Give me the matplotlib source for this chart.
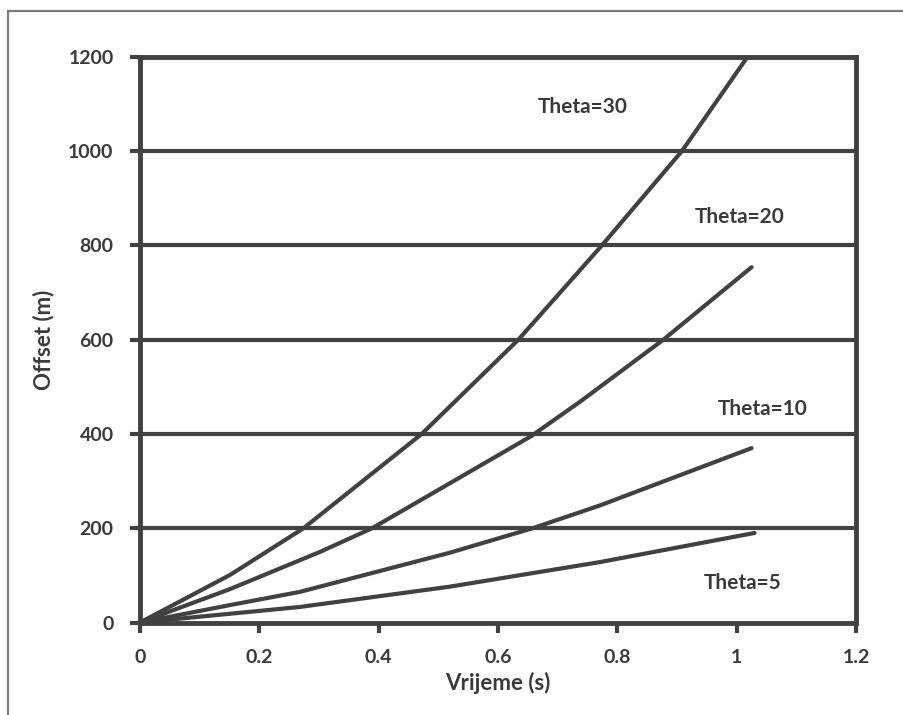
import matplotlib
matplotlib.use("Agg")
import matplotlib.pyplot as plt
from matplotlib.patches import Rectangle

# ---- data ----
t30 = [0.0, 0.151, 0.274, 0.472, 0.634, 0.774, 0.908, 1.018]
o30 = [0, 101, 200, 400, 600, 800, 1000, 1200]
t20 = [0.0, 0.151, 0.302, 0.389, 0.655, 0.737, 0.877, 1.025]
o20 = [0, 71, 150, 200, 395, 468, 600, 754]
t10 = [0.0, 0.151, 0.268, 0.519, 0.658, 0.770, 1.025]
o10 = [0, 37, 65, 148, 200, 248, 370]
t5 = [0.0, 0.268, 0.519, 0.770, 1.030]
o5 = [0, 33, 76, 128, 190]

labels = ["Theta=30", "Theta=20", "Theta=10", "Theta=5"]
label_x = [0.742, 1.005, 1.044, 1.01]
label_y = [1093, 860, 453, 84]

xticks = [0, 0.2, 0.4, 0.6, 0.8, 1.0, 1.2]
xticklabels = ["0", "0.2", "0.4", "0.6", "0.8", "1", "1.2"]
yticks = [0, 200, 400, 600, 800, 1000, 1200]
yticklabels = ["0", "200", "400", "600", "800", "1000", "1200"]

DARK = "#414141"
TXT = "#3a3a3a"
FONT = ["Lato", "DejaVu Sans"]
plt.rcParams["font.family"] = FONT

fig = plt.figure(figsize=(9.04, 7.15), dpi=100)
ax = fig.add_axes([140 / 904, 92.5 / 715, (856 - 140) / 904, (622.5 - 57) / 715])

# outer border (cropped at right/bottom in reference)
fig.patches.append(Rectangle((7.5 / 904, -20 / 715), 940 / 904, (704 + 20) / 715,
                             transform=fig.transFigure, fill=False,
                             edgecolor="#7a7a7a", linewidth=1.6, clip_on=False))

ax.set_xlim(0, 1.2)
ax.set_ylim(0, 1200)

# grid lines
for yv in yticks[1:-1]:
    ax.axhline(yv, color=DARK, linewidth=3.0, zorder=1)

for xs, ys in [(t30, o30), (t20, o20), (t10, o10), (t5, o5)]:
    ax.plot(xs, ys, color=DARK, linewidth=3.0, solid_capstyle="round",
            solid_joinstyle="round", zorder=3)

for s, lx, ly in zip(labels, label_x, label_y):
    ax.text(lx, ly, s, ha="center", va="center", fontsize=15, fontweight="bold",
            color=TXT, family=FONT)

for sp in ax.spines.values():
    sp.set_color(DARK)
    sp.set_linewidth(3.5)

ax.set_xticks(xticks)
ax.set_xticklabels(xticklabels)
ax.set_yticks(yticks)
ax.set_yticklabels(yticklabels)
ax.tick_params(axis="both", colors=DARK, width=3.0, labelcolor=TXT, labelsize=14)
ax.tick_params(axis="y", length=7, pad=12)
ax.tick_params(axis="x", length=7, pad=12)
for lab in ax.get_xticklabels() + ax.get_yticklabels():
    lab.set_fontweight("bold")

ax.set_xlabel("Vrijeme (s)", fontsize=16, fontweight="bold", color=TXT, labelpad=4)
ax.set_ylabel("Offset (m)", fontsize=16, fontweight="bold", color=TXT, labelpad=10)

fig.savefig("out.png", dpi=100)
